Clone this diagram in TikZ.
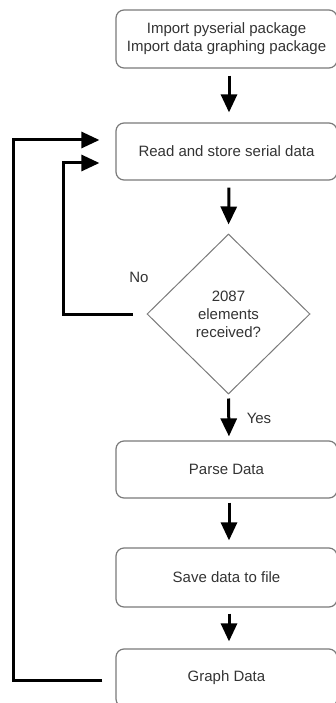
\documentclass[tikz,border=0pt]{standalone}
\usepackage{fontspec}
\setmainfont{Liberation Sans}
\usetikzlibrary{arrows.meta,shapes.geometric,calc}
\definecolor{boxline}{HTML}{7A7A7A}
\definecolor{txt}{HTML}{333333}
\begin{document}
\begin{tikzpicture}[x=1pt,y=-1pt,
  every node/.style={font=\fontsize{15}{18}\selectfont,text=txt},
  stepbox/.style={draw=boxline,line width=1.2pt,rounded corners=8pt,
    minimum width=221pt,inner sep=0pt,align=center},
  decision/.style={diamond,draw=boxline,line width=1pt,minimum width=163pt,
    minimum height=160pt,inner sep=0pt,align=center},
  flow/.style={line width=3pt,black,-{Triangle[width=16pt,length=18pt]}},
  lbl/.style={inner sep=0pt}]
\useasboundingbox (0,0) rectangle (336,703);

% process steps
\node[stepbox,minimum height=58pt] (b1) at (226.5,39)
  {Import pyserial package\\Import data graphing package};
\node[stepbox,minimum height=57pt] (b2) at (226.5,151.5)
  {Read and store serial data};
\node[decision] (d) at (228.5,314) {2087\\elements\\received?};
\node[stepbox,minimum height=57pt] (b3) at (226.5,469.5) {Parse Data};
\node[stepbox,minimum height=59pt] (b4) at (226.5,577.5) {Save data to file};
\node[stepbox,minimum height=58pt] (b5) at (226.5,678) {Graph Data};

% branch labels
\node[lbl] (no) at (139,277) {No};
\node[lbl] (yes) at (259,418) {Yes};

% turning points of the two feedback loops
\coordinate (loopA) at (63,163);
\coordinate (loopB) at (13,140);

% main flow
\draw[flow,shorten <=7pt,shorten >=10pt] ([xshift=2.5pt]b1.south) -- ([xshift=2.5pt]b2.north);
\draw[flow,shorten <=7pt,shorten >=9pt] ([xshift=2.5pt]b2.south) -- (d.north);
\draw[flow,shorten <=4pt,shorten >=4pt] (d.south) -- ([xshift=2.5pt]b3.north);
\draw[flow,shorten <=4pt,shorten >=7pt] ([xshift=2.5pt]b3.south) -- ([xshift=2.5pt]b4.north);
\draw[flow,shorten <=6pt,shorten >=7pt] ([xshift=2.5pt]b4.south) -- ([xshift=2.5pt]b5.north);

% feedback loops
\draw[flow,shorten <=14pt,shorten >=16pt] (d.west) -| (loopA) -- (b2.west |- loopA);
\draw[flow,shorten <=13pt,shorten >=16pt] ([yshift=-2pt]b5.west) -| (loopB) -- (b2.west |- loopB);
\end{tikzpicture}
\end{document}
